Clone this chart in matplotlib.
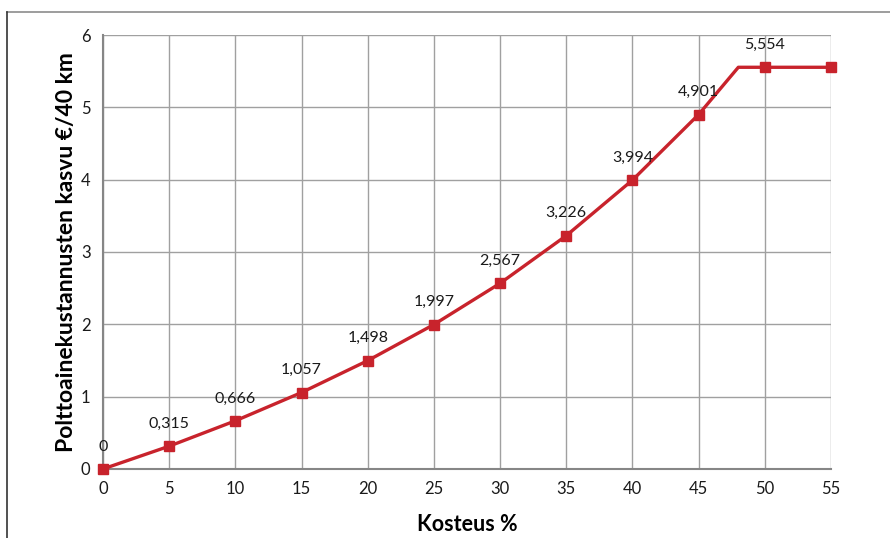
import matplotlib
matplotlib.use("Agg")
import matplotlib.pyplot as plt
from matplotlib.lines import Line2D

plt.rcParams['font.family'] = ['Lato', 'DejaVu Sans']

# moisture % and fuel cost increase (EUR / 40 km)
kosteus = [0, 5, 10, 15, 20, 25, 30, 35, 40, 45, 48, 50, 55]
kasvu = [0, 0.315, 0.666, 1.057, 1.498, 1.997, 2.567, 3.226, 3.994, 4.901, 5.554, 5.554, 5.554]
# points that get a value label
labelled = [0, 5, 10, 15, 20, 25, 30, 35, 40, 45, 50]

RED = '#c8232c'
GRID = '#a0a0a0'

fig = plt.figure(figsize=(8.9, 5.38), dpi=100)
ax = fig.add_axes([0.1157, 0.1283, 0.818, 0.8066])

marker_idx = [i for i, k in enumerate(kosteus) if k % 5 == 0]
ax.plot(kosteus, kasvu, color=RED, lw=2.4, marker='s', markersize=7,
        markevery=marker_idx, zorder=3, clip_on=False)

for k, v in zip(kosteus, kasvu):
    if k in labelled:
        txt = f"{v:.3f}".replace('.', ',') if v != 0 else "0"
        ax.annotate(txt, (k, v), xytext=(0, 11), textcoords='offset points',
                    ha='center', va='bottom', fontsize=11.5, color='#1a1a1a')

ax.set_xlim(0, 55)
ax.set_ylim(0, 6)
ax.set_xticks(range(0, 56, 5))
ax.set_yticks(range(0, 7))
ax.grid(True, color=GRID, lw=1)
ax.set_axisbelow(True)
ax.tick_params(length=0, labelsize=12, colors='#1a1a1a', pad=9)
for side in ['top', 'right']:
    ax.spines[side].set_visible(False)
for side in ['left', 'bottom']:
    ax.spines[side].set_color('#868686')
    ax.spines[side].set_linewidth(1.5)

ax.set_xlabel('Kosteus %', fontsize=15.5, fontweight='bold', labelpad=12)
ax.set_ylabel('Polttoainekustannusten kasvu €/40 km', fontsize=16.5,
              fontweight='bold', labelpad=3)

# outer chart frame
fig.add_artist(Line2D([7 / 890, 1], [1 - 12 / 538] * 2, color='#8c8c8c', lw=1.2))
fig.add_artist(Line2D([7 / 890] * 2, [0, 1 - 12 / 538], color='#333333', lw=1.2))

fig.savefig('out.png', dpi=100)
